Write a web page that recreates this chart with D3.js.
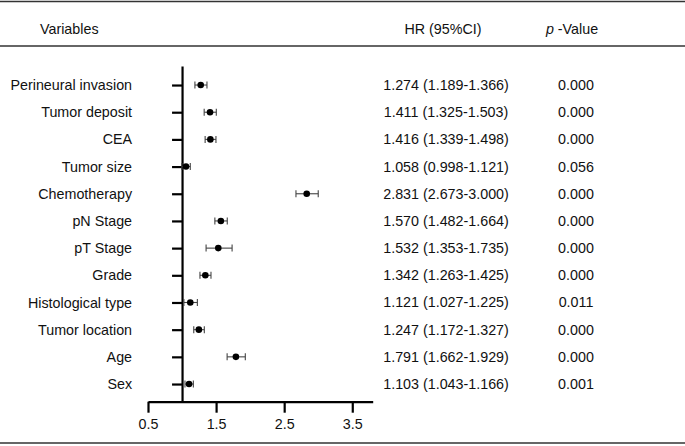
<!DOCTYPE html>
<html>
<head>
<meta charset="utf-8">
<script src="https://cdn.jsdelivr.net/npm/d3@7"></script>
<style>
  body { margin: 0; background: #fff; }
  text { font-family: "Liberation Sans", Arial, sans-serif; fill: #111; }
</style>
</head>
<body>
<div id="forest"></div>
<script>
// values
const variables = ["Perineural invasion", "Tumor deposit", "CEA", "Tumor size", "Chemotherapy",
  "pN Stage", "pT Stage", "Grade", "Histological type", "Tumor location", "Age", "Sex"];
const hr    = [1.274, 1.411, 1.416, 1.058, 2.831, 1.570, 1.532, 1.342, 1.121, 1.247, 1.791, 1.103];
const lower = [1.189, 1.325, 1.339, 0.998, 2.673, 1.482, 1.353, 1.263, 1.027, 1.172, 1.662, 1.043];
const upper = [1.366, 1.503, 1.498, 1.121, 3.000, 1.664, 1.735, 1.425, 1.225, 1.327, 1.929, 1.166];
const pValues = ["0.000", "0.000", "0.000", "0.056", "0.000", "0.000", "0.000", "0.000", "0.011", "0.000", "0.000", "0.001"];
const xTicks = [0.5, 1.5, 2.5, 3.5];

const width = 685, height = 446;
const fontSize = 14.3;

const svg = d3.select('#forest')
  .append('svg')
  .attr('width', width)
  .attr('height', height);

const rows = variables.map((v, i) => ({
  name: v, hr: hr[i], lo: lower[i], hi: upper[i], p: pValues[i], idx: i + 1
}));

const x = d3.scaleLinear().domain([0.5, 3.8]).range([148, 372.7]);
const y = d3.scaleLinear().domain([0.3, 12.65]).range([66, 401.7]);

// table rules
[1.5, 46, 443].forEach(yy => {
  svg.append('line')
    .attr('x1', 0).attr('x2', width)
    .attr('y1', yy).attr('y2', yy)
    .attr('stroke', '#333')
    .attr('stroke-width', 1.5);
});

// header
svg.append('text').attr('x', 40).attr('y', 33.5)
  .style('font-size', fontSize + 'px').text('Variables');
svg.append('text').attr('x', 443).attr('y', 33.5)
  .attr('text-anchor', 'middle')
  .style('font-size', fontSize + 'px').text('HR (95%CI)');
const pHead = svg.append('text').attr('x', 572).attr('y', 33.5)
  .attr('text-anchor', 'middle')
  .style('font-size', fontSize + 'px');
pHead.append('tspan').style('font-style', 'italic').text('p');
pHead.append('tspan').text(' -Value');

// x axis
const xAxis = svg.append('g')
  .attr('transform', `translate(0,${y(12.65)})`)
  .call(d3.axisBottom(x).tickValues(xTicks).tickFormat(d3.format('.1f'))
    .tickSize(11).tickSizeOuter(0).tickPadding(6));

// y axis at HR = 1
const yAxis = svg.append('g')
  .attr('transform', `translate(${x(1)},0)`)
  .call(d3.axisLeft(y).tickValues(rows.map(d => d.idx))
    .tickFormat(i => variables[i - 1])
    .tickSize(10).tickSizeOuter(0).tickPadding(40));

[xAxis, yAxis].forEach(g => {
  g.select('.domain').attr('stroke', '#000').attr('stroke-width', 2.2);
  g.selectAll('.tick line').attr('stroke', '#000').attr('stroke-width', 2.2);
  g.selectAll('.tick text')
    .style('font-size', fontSize + 'px')
    .style('font-family', '"Liberation Sans", Arial, sans-serif')
    .attr('fill', '#111');
});
xAxis.selectAll('.tick text').attr('dy', '0.75em');

// error bars
const bars = svg.append('g').attr('stroke', '#444').attr('stroke-width', 1.1);
rows.forEach(d => {
  const yy = y(d.idx);
  bars.append('line').attr('x1', x(d.lo)).attr('x2', x(d.hi)).attr('y1', yy).attr('y2', yy);
  bars.append('line').attr('x1', x(d.lo)).attr('x2', x(d.lo)).attr('y1', yy - 3.5).attr('y2', yy + 3.5);
  bars.append('line').attr('x1', x(d.hi)).attr('x2', x(d.hi)).attr('y1', yy - 3.5).attr('y2', yy + 3.5);
});

svg.append('g').selectAll('circle')
  .data(rows)
  .join('circle')
  .attr('cx', d => x(d.hr))
  .attr('cy', d => y(d.idx))
  .attr('r', 3.3)
  .attr('fill', '#000');

// HR and p columns
svg.append('g').selectAll('text')
  .data(rows)
  .join('text')
  .attr('x', 446)
  .attr('y', d => y(d.idx))
  .attr('dy', '0.35em')
  .attr('text-anchor', 'middle')
  .style('font-size', fontSize + 'px')
  .text(d => `${d3.format('.3f')(d.hr)} (${d3.format('.3f')(d.lo)}-${d3.format('.3f')(d.hi)})`);

svg.append('g').selectAll('text')
  .data(rows)
  .join('text')
  .attr('x', 576)
  .attr('y', d => y(d.idx))
  .attr('dy', '0.35em')
  .attr('text-anchor', 'middle')
  .style('font-size', fontSize + 'px')
  .text(d => d.p);
</script>
</body>
</html>
